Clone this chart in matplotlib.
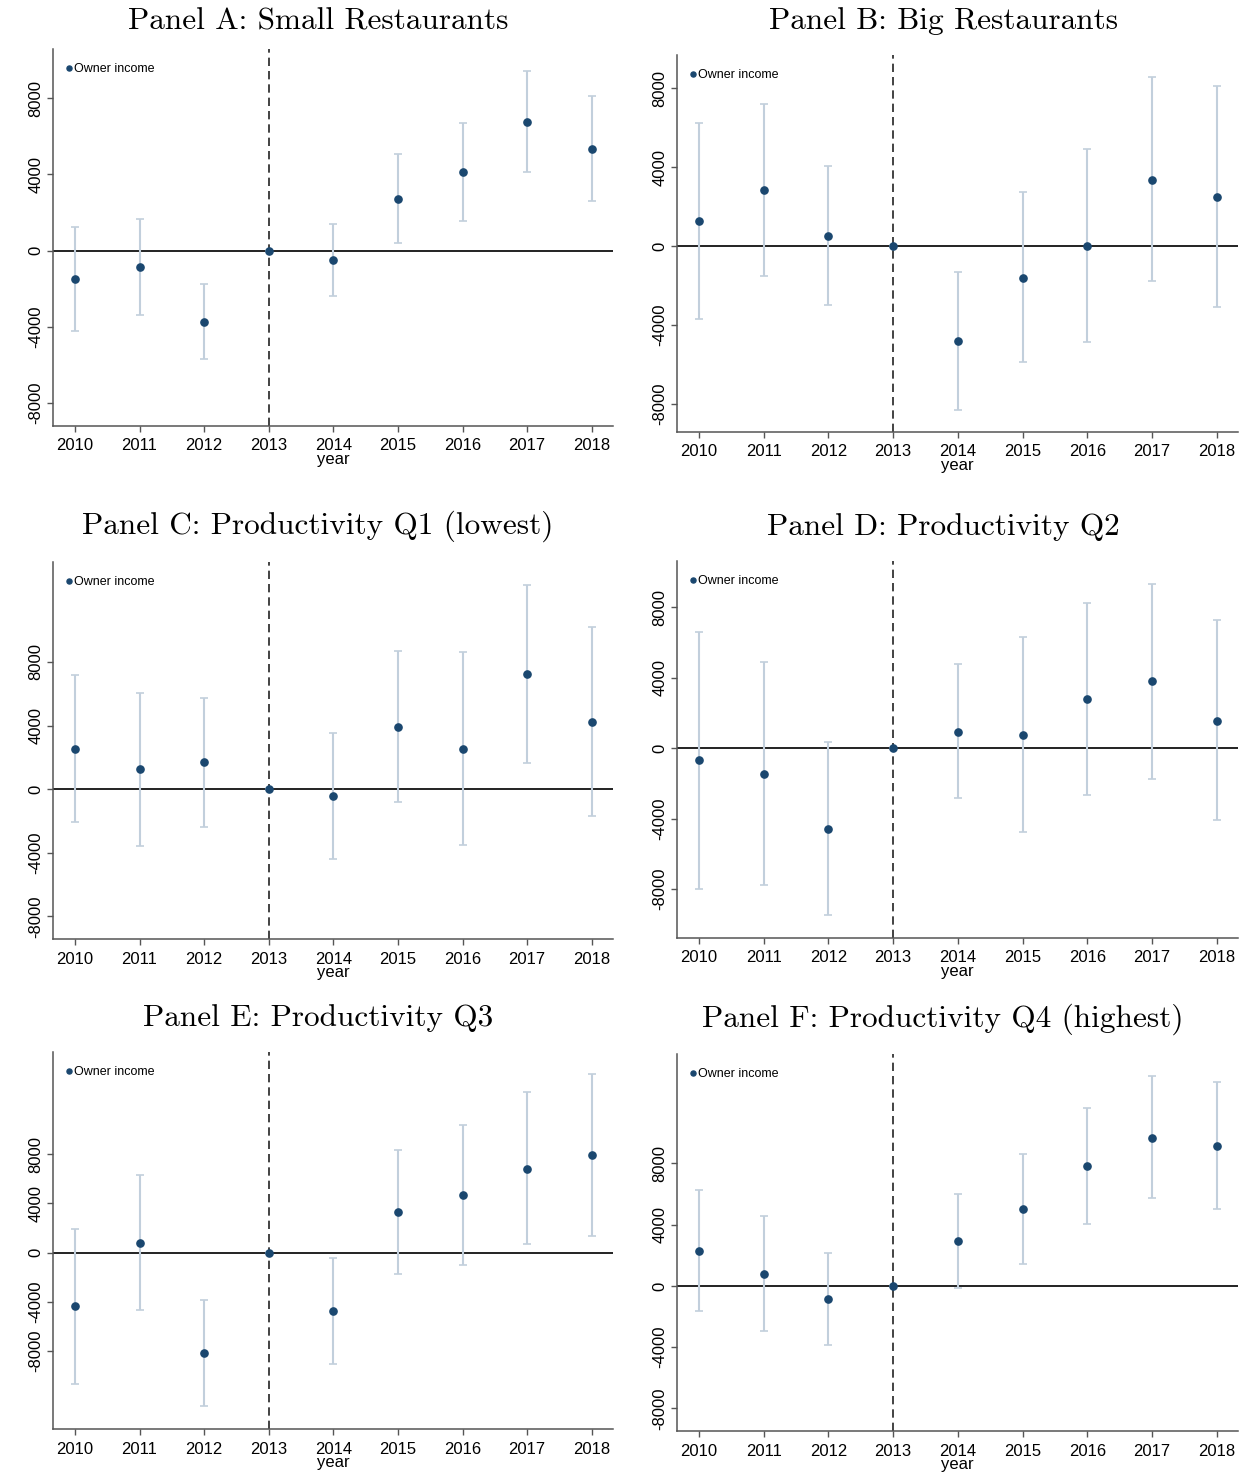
import numpy as np
import matplotlib
matplotlib.use("Agg")
import matplotlib.pyplot as plt

years = [2010, 2011, 2012, 2013, 2014, 2015, 2016, 2017, 2018]
titles = ["Panel A: Small Restaurants", "Panel B: Big Restaurants",
          "Panel C: Productivity Q1 (lowest)", "Panel D: Productivity Q2",
          "Panel E: Productivity Q3", "Panel F: Productivity Q4 (highest)"]

# point estimates
est_a = [-1500, -880, -3730, 0, -520, 2710, 4100, 6740, 5340]
est_b = [1270, 2860, 520, 0, -4800, -1590, 30, 3370, 2490]
est_c = [2510, 1240, 1680, 0, -440, 3920, 2530, 7230, 4250]
est_d = [-700, -1440, -4590, 0, 930, 760, 2790, 3790, 1570]
est_e = [-4360, 790, -8180, 0, -4740, 3250, 4660, 6800, 7910]
est_f = [2290, 780, -850, 0, 2900, 5010, 7820, 9650, 9130]
# upper CI
hi_a = [1210, 1660, -1750, 0, 1380, 5040, 6690, 9400, 8110]
hi_b = [6230, 7230, 4060, 0, -1300, 2760, 4940, 8560, 8100]
hi_c = [7160, 6070, 5760, 0, 3520, 8710, 8610, 12840, 10200]
hi_d = [6620, 4910, 360, 0, 4760, 6290, 8270, 9350, 7300]
hi_e = [1950, 6290, -3850, 0, -410, 8320, 10380, 13010, 14470]
hi_f = [6250, 4580, 2160, 0, 5970, 8580, 11610, 13680, 13330]
# lower CI
lo_a = [-4220, -3380, -5690, 0, -2400, 420, 1540, 4100, 2590]
lo_b = [-3670, -1490, -2960, 0, -8290, -5900, -4860, -1780, -3080]
lo_c = [-2090, -3580, -2350, 0, -4380, -840, -3500, 1650, -1680]
lo_d = [-8020, -7750, -9500, 0, -2860, -4760, -2650, -1740, -4110]
lo_e = [-10650, -4690, -12490, 0, -9050, -1730, -1030, 680, 1380]
lo_f = [-1660, -2960, -3830, 0, -150, 1460, 4050, 5710, 4990]

ests = [est_a, est_b, est_c, est_d, est_e, est_f]
his = [hi_a, hi_b, hi_c, hi_d, hi_e, hi_f]
los = [lo_a, lo_b, lo_c, lo_d, lo_e, lo_f]
ylims = [(-9200, 10570), (-9425, 9695), (-9424, 14283),
         (-10787, 10635), (-14336, 16287), (-9477, 15142)]
yticks = [-8000, -4000, 0, 4000, 8000]
legend_label = "Owner income"
xlabel = "year"

W, H = 1250, 1478
fig = plt.figure(figsize=(W / 100, H / 100), dpi=100)

# axes boxes in pixels: left, top, right, bottom
boxes = [(53, 49, 613, 426), (677, 55, 1238, 432),
         (53, 562, 613, 939), (677, 561, 1238, 938),
         (53, 1052, 613, 1429), (677, 1054, 1238, 1431)]
title_pos = [(318, 22), (944, 21), (318, 526), (943, 527), (318, 1018), (943, 1019)]

navy = "#1a476f"
ci_col = "#c2cfdc"
sans = ["Liberation Sans", "DejaVu Sans"]

for i in range(6):
    l, t, r, b = boxes[i]
    ax = fig.add_axes([l / W, 1 - b / H, (r - l) / W, (b - t) / H])
    y = np.array(ests[i])
    hi = np.array(his[i])
    lo = np.array(los[i])
    ax.errorbar(years, y, yerr=[y - lo, hi - y], fmt="none", ecolor=ci_col,
                elinewidth=1.5, capsize=3.2, capthick=1.2, zorder=2)
    ax.axhline(0, color="#222222", lw=1.4, zorder=1)
    ax.axvline(2013, color="#222222", lw=1.2, ls=(0, (5, 3)), zorder=1)
    ax.plot(years, y, "o", color=navy, ms=5.2, zorder=3, label=legend_label)
    ax.set_xlim(2009.66, 2018.33)
    ax.set_ylim(*ylims[i])
    ax.set_xticks(years)
    ax.set_xticklabels([str(v) for v in years], fontsize=12, family=sans)
    ax.set_yticks(yticks)
    ax.set_yticklabels([str(v) for v in yticks], fontsize=12, family=sans,
                       rotation=90, va="center")
    ax.set_xlabel(xlabel, fontsize=12, family=sans, labelpad=-1)
    for s in ["top", "right"]:
        ax.spines[s].set_visible(False)
    for s in ["left", "bottom"]:
        ax.spines[s].set_color("#555555")
        ax.spines[s].set_linewidth(1.1)
    ax.tick_params(axis="x", length=4, width=1.0, color="#555555", pad=5)
    ax.tick_params(axis="y", length=4, width=1.0, color="#555555", pad=3)
    ax.legend(loc="upper left", frameon=False,
              prop={"family": sans, "size": 9}, handletextpad=0.0,
              handlelength=0.9, markerscale=0.7, borderaxespad=0.4,
              bbox_to_anchor=(0.0, 1.0 - 4 / 377))
    tx, ty = title_pos[i]
    fig.text(tx / W, 1 - ty / H, titles[i], ha="center", va="center",
             fontsize=22.5, family="cmr10")

fig.savefig("out.png", dpi=100, facecolor="white")
